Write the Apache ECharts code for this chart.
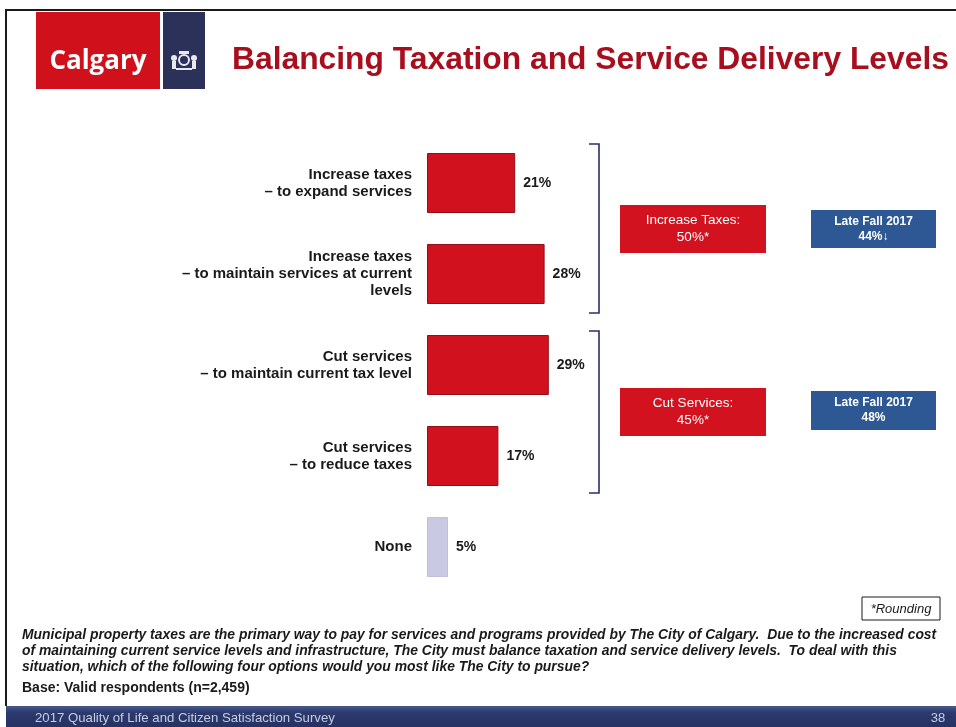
<!DOCTYPE html>
<html>
<head>
<meta charset="utf-8">
<script src="https://cdn.jsdelivr.net/npm/echarts@6/dist/echarts.min.js"></script>
<style>
  html, body { margin: 0; padding: 0; background: #ffffff; }
  #chart { width: 956px; height: 727px; }
</style>
</head>
<body>
<div id="chart"></div>
<script>
// Survey answers, top to bottom
const categories = [
  'Increase taxes\n\u2013 to expand services',
  'Increase taxes\n\u2013 to maintain services at current\nlevels',
  'Cut services\n\u2013 to maintain current tax level',
  'Cut services\n\u2013 to reduce taxes',
  'None'
];
const shares = [21, 28, 29, 17, 5];
const barColors = ['#d2111f', '#d2111f', '#d2111f', '#d2111f', '#c9c9e3'];
const borderColors = ['#8e1119', '#8e1119', '#8e1119', '#8e1119', '#c0c0dc'];

// Group totals and prior wave
const groupTitles = ['Increase Taxes:', 'Cut Services:'];
const groupTotals = ['50%*', '45%*'];
const priorWave = ['Late Fall 2017', 'Late Fall 2017'];
const priorTotals = ['44%\u2193', '48%'];

const FONT = '"Liberation Sans", Arial, sans-serif';

const chart = echarts.init(document.getElementById('chart'), null, { renderer: 'canvas' });

function summaryBox(x, y, w, h, fill, line1, line2, size, bold) {
  return {
    type: 'group', x: x, y: y,
    children: [
      { type: 'rect', shape: { x: 0, y: 0, width: w, height: h }, style: { fill: fill } },
      { type: 'text', x: w / 2, y: h / 2,
        style: { text: line1 + '\n' + line2, fill: '#ffffff', font: (bold ? 'bold ' : '') + size + 'px ' + FONT,
                 textAlign: 'center', textVerticalAlign: 'middle', lineHeight: size + 3 } }
    ]
  };
}

function bracket(x, y1, y2) {
  return {
    type: 'polyline',
    shape: { points: [[x - 10, y1], [x, y1], [x, y2], [x - 10, y2]] },
    style: { stroke: '#2a2f6a', lineWidth: 1.6, fill: null }
  };
}

const option = {
  backgroundColor: '#ffffff',
  animation: false,
  grid: { left: 427, top: 137.5, height: 455, width: 420, containLabel: false },
  xAxis: { type: 'value', min: 0, max: 100, show: false },
  yAxis: {
    type: 'category', data: categories, inverse: true,
    axisLine: { show: false }, axisTick: { show: false }, splitLine: { show: false },
    axisLabel: {
      margin: 15, color: '#1a1a1a', fontFamily: FONT, fontWeight: 'bold', fontSize: 15,
      lineHeight: 17, align: 'right'
    }
  },
  series: [{
    type: 'bar',
    barWidth: 60,
    data: shares.map((v, i) => ({
      value: v,
      itemStyle: { color: barColors[i], borderColor: borderColors[i], borderWidth: 1 }
    })),
    label: {
      show: true, position: 'right', distance: 8,
      formatter: '{c}%', color: '#1a1a1a', fontFamily: FONT, fontWeight: 'bold', fontSize: 14
    }
  }],
  graphic: [
    // slide frame
    { type: 'line', shape: { x1: 5, y1: 10, x2: 956, y2: 10 }, style: { stroke: '#1a1a1a', lineWidth: 2 } },
    { type: 'line', shape: { x1: 6, y1: 10, x2: 6, y2: 706 }, style: { stroke: '#1a1a1a', lineWidth: 2 } },
    // logo
    { type: 'rect', shape: { x: 36, y: 12, width: 124, height: 77 }, style: { fill: '#d0111c' } },
    { type: 'text', x: 98, y: 62, style: { text: 'Calgary', fill: '#ffffff', font: 'bold 26px "Open Sans", "Noto Sans", ' + FONT, textAlign: 'center', textVerticalAlign: 'middle' } },
    { type: 'rect', shape: { x: 163, y: 12, width: 42, height: 77 }, style: { fill: '#2b3158' } },
    { type: 'circle', shape: { cx: 184, cy: 60, r: 5 }, style: { fill: 'none', stroke: '#e8e8f0', lineWidth: 2 } },
    { type: 'circle', shape: { cx: 174, cy: 58, r: 3 }, style: { fill: '#e8e8f0' } },
    { type: 'circle', shape: { cx: 194, cy: 58, r: 3 }, style: { fill: '#e8e8f0' } },
    { type: 'rect', shape: { x: 172, y: 61, width: 4, height: 8 }, style: { fill: '#e8e8f0' } },
    { type: 'rect', shape: { x: 192, y: 61, width: 4, height: 8 }, style: { fill: '#e8e8f0' } },
    { type: 'rect', shape: { x: 179, y: 51, width: 10, height: 3 }, style: { fill: '#e8e8f0' } },
    { type: 'rect', shape: { x: 176, y: 68, width: 16, height: 2 }, style: { fill: '#e8e8f0' } },
    // title
    { type: 'text', x: 232, y: 60, style: { text: 'Balancing Taxation and Service Delivery Levels', fill: '#a80f1e', font: 'bold 31.8px ' + FONT, textVerticalAlign: 'middle' } },
    // group brackets
    bracket(599, 144, 313),
    bracket(599, 331, 493),
    // group summaries
    summaryBox(620, 205, 146, 48, '#d2131f', groupTitles[0], groupTotals[0], 13.5, false),
    summaryBox(811, 210, 125, 38, '#2e5893', priorWave[0], priorTotals[0], 12, true),
    summaryBox(620, 388, 146, 48, '#d2131f', groupTitles[1], groupTotals[1], 13.5, false),
    summaryBox(811, 391, 125, 39, '#2e5893', priorWave[1], priorTotals[1], 12, true),
    // rounding note
    { type: 'rect', shape: { x: 862, y: 597, width: 78, height: 23 }, style: { fill: '#ffffff', stroke: '#1a1a1a', lineWidth: 1 } },
    { type: 'text', x: 901, y: 609, style: { text: '*Rounding', fill: '#1a1a1a', font: 'italic 13px ' + FONT, textAlign: 'center', textVerticalAlign: 'middle' } },
    // question text
    { type: 'text', x: 22, y: 627, style: {
      text: 'Municipal property taxes are the primary way to pay for services and programs provided by The City of Calgary.  Due to the increased cost\nof maintaining current service levels and infrastructure, The City must balance taxation and service delivery levels.  To deal with this\nsituation, which of the following four options would you most like The City to pursue?',
      fill: '#1a1a1a', font: 'italic bold 13.9px ' + FONT, lineHeight: 16 } },
    { type: 'text', x: 22, y: 681, style: { text: 'Base: Valid respondents (n=2,459)', fill: '#1a1a1a', font: 'bold 14px ' + FONT } },
    // footer band
    { type: 'rect', shape: { x: 6, y: 706, width: 950, height: 21 }, style: {
      fill: new echarts.graphic.LinearGradient(0, 0, 0, 1, [
        { offset: 0, color: '#4a5a8c' }, { offset: 0.3, color: '#2c3a6e' }, { offset: 1, color: '#253262' }
      ]) } },
    { type: 'text', x: 35, y: 718, style: { text: '2017 Quality of Life and Citizen Satisfaction Survey', fill: '#c8cce0', font: '13.2px ' + FONT, textVerticalAlign: 'middle' } },
    { type: 'text', x: 938, y: 718, style: { text: '38', fill: '#c8cce0', font: '13px ' + FONT, textAlign: 'center', textVerticalAlign: 'middle' } }
  ]
};

chart.setOption(option);
</script>
</body>
</html>
